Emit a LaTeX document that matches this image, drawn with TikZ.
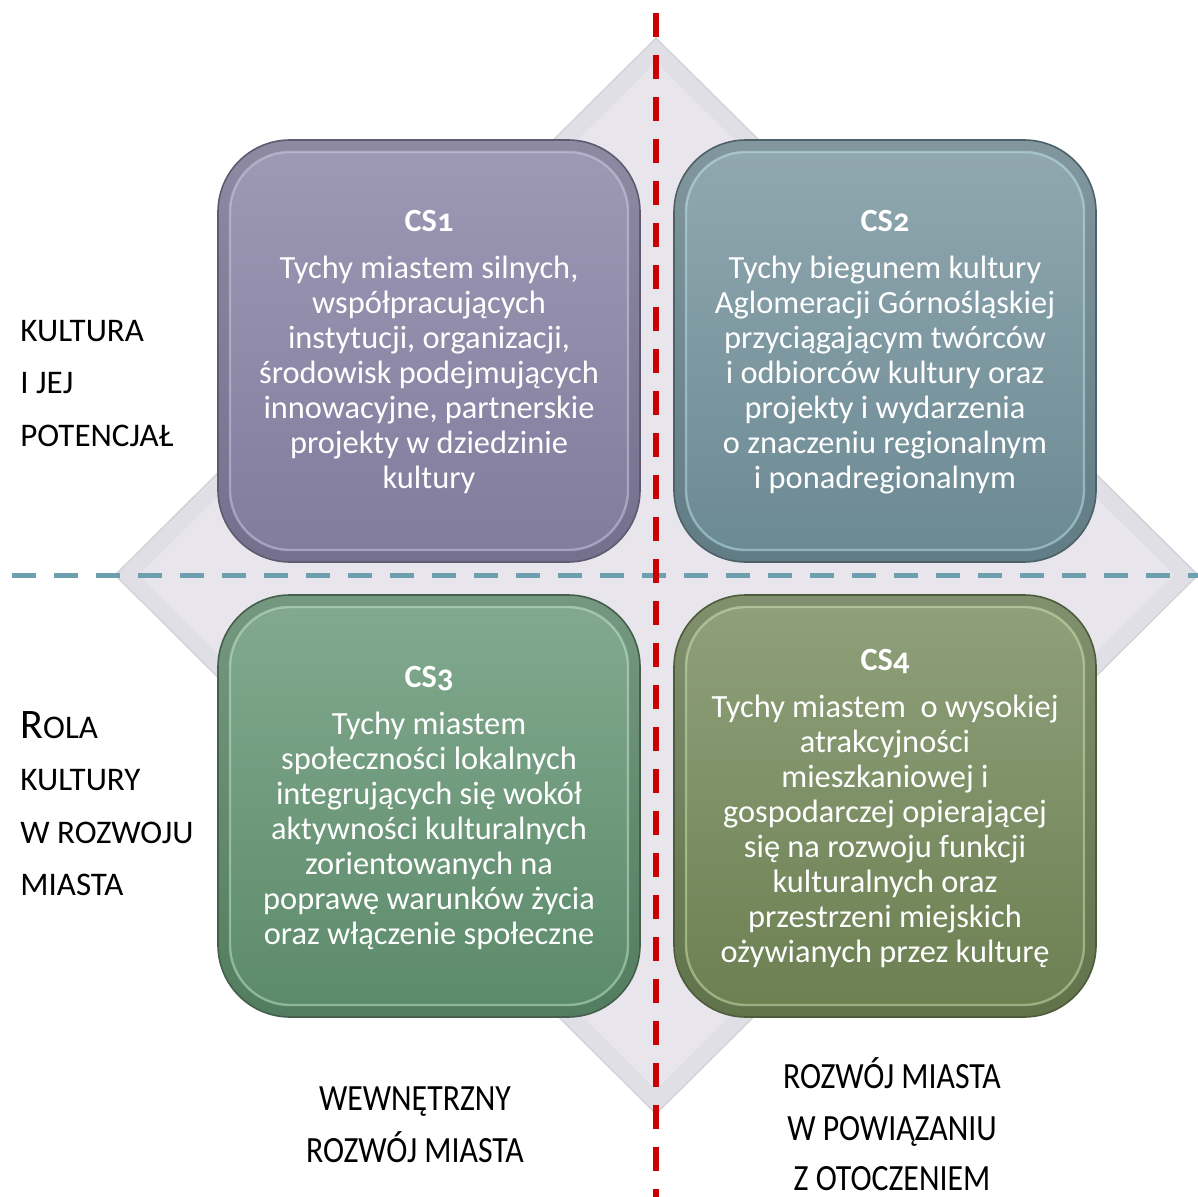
\documentclass[tikz,border=0pt]{standalone}
\usepackage{fontspec}
\setmainfont{Carlito}
\newfontfamily\condfont[FakeStretch=0.86]{Carlito}
\definecolor{dmOut}{HTML}{E1DFE6}
\definecolor{dmIn}{HTML}{E8E6EC}
\definecolor{dmEdge}{HTML}{D2D0D7}
\definecolor{redline}{HTML}{CC0000}
\definecolor{tealline}{HTML}{6E9FAF}
\definecolor{aTop}{HTML}{9D99B4}\definecolor{aBot}{HTML}{827C9D}\definecolor{aDk}{HTML}{5E5A70}\definecolor{aHl}{HTML}{DAD6F2}
\definecolor{bTop}{HTML}{90A7AF}\definecolor{bBot}{HTML}{6C8A94}\definecolor{bDk}{HTML}{4E6068}\definecolor{bHl}{HTML}{C8F0F5}
\definecolor{cTop}{HTML}{82A98E}\definecolor{cBot}{HTML}{5C8B6A}\definecolor{cDk}{HTML}{44604C}\definecolor{cHl}{HTML}{D0F5D8}
\definecolor{dTop}{HTML}{8FA07A}\definecolor{dBot}{HTML}{6C8052}\definecolor{dDk}{HTML}{4E5C3C}\definecolor{dHl}{HTML}{DDF0C0}
\tikzset{
  boxouter/.style={rounded corners=36pt, minimum width=211pt, minimum height=211pt, inner sep=0pt, line width=0.8pt},
  boxinner/.style={rounded corners=30pt, minimum width=199pt, minimum height=199pt, inner sep=0pt, line width=1.2pt, draw opacity=0.45},
  boxtext/.style={align=center, text=white, inner sep=0pt, font=\fontsize{16.2}{17.5}\selectfont},
  sidelabel/.style={anchor=base west, inner sep=0pt, font=\fontsize{16.5}{16.5}\selectfont},
  botlabel/.style={anchor=base, inner sep=0pt, outer sep=0pt, text depth=0pt, font=\condfont\fontsize{18.5}{18.5}\selectfont},
  reddash/.style={draw=redline, line width=3pt, dash pattern=on 12pt off 9pt},
  tealdash/.style={draw=tealline, line width=2.5pt, dash pattern=on 12pt off 9pt}
}
\newcommand{\cstitle}[1]{\textbf{CS\addfontfeature{Numbers=OldStyle}#1}}
\begin{document}
\begin{tikzpicture}[x=0.5pt,y=-0.5pt]
\useasboundingbox (0,0) rectangle (1198,1197);
% diamond
\coordinate (dT) at (656,38);
\coordinate (dR) at (1198,575);
\coordinate (dB) at (656,1114);
\coordinate (dL) at (115,575);
\coordinate (iT) at (656,62);
\coordinate (iR) at (1174,575);
\coordinate (iB) at (656,1090);
\coordinate (iL) at (139,575);
\fill[dmOut, draw=dmEdge, line width=0.6pt] (dT) -- (dR) -- (dB) -- (dL) -- cycle;
\fill[dmIn] (iT) -- (iR) -- (iB) -- (iL) -- cycle;
% boxes
\node[boxouter, draw=aDk, top color=aTop!90!black, bottom color=aBot!90!black] (o1) at (429,351) {};
\node[boxinner, draw=aHl, top color=aTop, bottom color=aBot] (i1) at (o1) {};
\node[boxouter, draw=bDk, top color=bTop!90!black, bottom color=bBot!90!black] (o2) at (885,351) {};
\node[boxinner, draw=bHl, top color=bTop, bottom color=bBot] (i2) at (o2) {};
\node[boxouter, draw=cDk, top color=cTop!90!black, bottom color=cBot!90!black] (o3) at (429,806) {};
\node[boxinner, draw=cHl, top color=cTop, bottom color=cBot] (i3) at (o3) {};
\node[boxouter, draw=dDk, top color=dTop!90!black, bottom color=dBot!90!black] (o4) at (885,806) {};
\node[boxinner, draw=dHl, top color=dTop, bottom color=dBot] (i4) at (o4) {};
% box texts
\node[boxtext] (t1) at (429,352) {\cstitle{1}\\[6pt]Tychy miastem silnych,\\współpracujących\\instytucji, organizacji,\\środowisk podejmujących\\innowacyjne, partnerskie\\projekty w dziedzinie\\kultury};
\node[boxtext] (t2) at (885,352) {\cstitle{2}\\[6pt]Tychy biegunem kultury\\Aglomeracji Górnośląskiej\\przyciągającym twórców\\i odbiorców kultury oraz\\projekty i wydarzenia\\o znaczeniu regionalnym\\i ponadregionalnym};
\node[boxtext] (t3) at (429,808) {\cstitle{3}\\[6pt]Tychy miastem\\społeczności lokalnych\\integrujących się wokół\\aktywności kulturalnych\\zorientowanych na\\poprawę warunków życia\\oraz włączenie społeczne};
\node[boxtext] (t4) at (885,808) {\cstitle{4}\\[6pt]Tychy miastem\ \ o wysokiej\\atrakcyjności\\mieszkaniowej i\\gospodarczej opierającej\\się na rozwoju funkcji\\kulturalnych oraz\\przestrzeni miejskich\\ożywianych przez kulturę};
% dashed axes
\coordinate (hL) at (12,575);
\coordinate (hR) at (1198,575);
\coordinate (vT) at (656,13);
\coordinate (vB) at (656,1197);
\draw[tealdash] (hL) -- (hR);
\draw[reddash] (vT) -- (vB);
% side labels
\node[sidelabel] (l1) at (20,342) {KULTURA};
\node[sidelabel] (l2) at (20,394) {I JEJ};
\node[sidelabel] (l3) at (20,447) {POTENCJAŁ};
\node[sidelabel] (l4) at (20,738) {{\fontsize{21}{21}\selectfont R}OLA};
\node[sidelabel] (l5) at (20,790) {KULTURY};
\node[sidelabel] (l6) at (20,843) {W ROZWOJU};
\node[sidelabel] (l7) at (20,895) {MIASTA};
% bottom labels
\node[botlabel] (b1) at (415,1110) {WEWNĘTRZNY};
\node[botlabel] (b2) at (415,1162) {ROZWÓJ MIASTA};
\node[botlabel] (b3) at (892,1088) {ROZWÓJ MIASTA};
\node[botlabel] (b4) at (892,1140) {W POWIĄZANIU};
\node[botlabel] (b5) at (892,1190) {Z OTOCZENIEM};
\end{tikzpicture}
\end{document}
